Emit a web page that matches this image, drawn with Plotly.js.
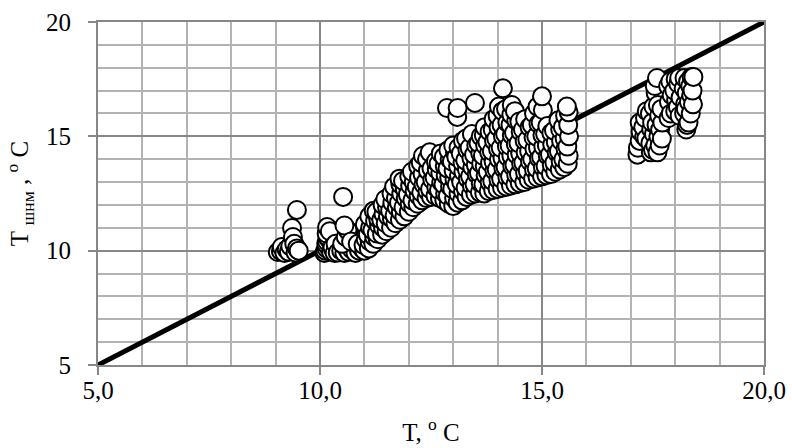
<!DOCTYPE html>
<html>
<head>
<meta charset="utf-8">
<script src="https://cdn.plot.ly/plotly-3.0.1.min.js"></script>
<style>
html,body{margin:0;padding:0;background:#fff;}
#chart{width:792px;height:448px;}
</style>
</head>
<body>
<div id="chart"></div>
<script>
// Group observed near 9-9.6 °C
const groupA_T = [9.05, 9.12, 9.14, 9.20, 9.25, 9.30, 9.33, 9.37, 9.39, 9.42, 9.45, 9.48, 9.48, 9.52];
const groupA_Tshnm = [9.94, 9.98, 10.16, 9.90, 10.05, 9.95, 10.20, 10.99, 10.60, 10.30, 9.92, 11.78, 10.10, 10.00];

// Group near 10-11 °C
const groupB_T = [10.10, 10.12, 10.15, 10.18, 10.14, 10.16, 10.20, 10.17, 10.15, 10.16, 10.22, 10.25, 10.30, 10.28, 10.33, 10.35,
  10.40, 10.48, 10.55, 10.60, 10.65, 10.72, 10.80, 10.88, 10.95, 10.50, 10.58, 10.62, 10.55, 10.52, 10.70, 10.85];
const groupB_Tshnm = [9.90, 10.00, 10.10, 10.20, 10.30, 10.40, 10.50, 10.60, 10.75, 11.03, 10.85, 9.95, 10.05, 10.15, 9.90, 10.30,
  9.92, 10.00, 9.90, 10.10, 9.95, 10.05, 9.90, 10.00, 10.10, 10.30, 10.60, 10.90, 11.10, 12.35, 10.40, 10.30];

// Main group 11-15.6 °C
const mainT = [
  11.00,10.98,11.03,11.05,11.01,
  11.10,11.12,11.08,11.13,11.11,
  11.20,11.22,11.18,11.24,11.21,
  11.30,11.28,11.33,11.31,11.27,
  11.40,11.42,11.38,11.43,11.41,
  11.50,11.48,11.53,11.51,11.47,
  11.60,11.62,11.58,11.63,11.61,
  11.70,11.68,11.73,11.71,11.67,
  11.80,11.82,11.78,11.83,11.81,11.79,
  11.90,11.88,11.93,11.91,11.87,
  12.00,12.02,11.98,12.03,12.01,
  12.10,12.08,12.13,12.11,12.07,
  12.20,12.22,12.18,12.23,12.21,
  12.30,12.28,12.33,12.31,12.27,12.32,
  12.40,12.42,12.38,12.43,12.41,
  12.50,12.48,12.53,12.51,12.47,
  12.60,12.62,12.58,12.63,12.61,
  12.70,12.68,12.73,12.71,12.67,12.72,
  12.80,12.82,12.78,12.83,12.81,12.79,
  12.90,12.88,12.93,12.91,12.87,12.92,12.89,12.86,
  13.00,13.02,12.98,13.03,13.01,12.97,13.04,13.00,13.09,
  13.10,13.12,13.08,13.13,13.11,13.07,13.12,13.10,
  13.20,13.22,13.18,13.23,13.21,13.17,13.22,
  13.30,13.28,13.33,13.31,13.27,13.32,13.29,
  13.40,13.42,13.38,13.43,13.41,13.37,13.42,
  13.50,13.48,13.53,13.51,13.47,13.52,13.49,
  13.60,13.62,13.58,13.63,13.61,13.57,13.62,
  13.70,13.68,13.73,13.71,13.67,13.72,13.69,13.71,
  13.80,13.82,13.78,13.83,13.81,13.77,13.82,
  13.90,13.88,13.93,13.91,13.87,13.92,13.89,13.91,
  14.00,14.02,13.98,14.03,14.01,13.97,14.02,14.00,14.03,
  14.10,14.08,14.13,14.11,14.07,14.12,14.09,14.11,14.12,
  14.20,14.22,14.18,14.23,14.21,14.17,14.22,14.19,
  14.30,14.28,14.33,14.31,14.27,14.32,14.29,14.31,14.32,
  14.40,14.42,14.38,14.43,14.41,14.37,14.42,14.39,
  14.50,14.48,14.53,14.51,14.47,14.52,14.49,
  14.60,14.62,14.58,14.63,14.61,14.57,14.62,
  14.70,14.68,14.73,14.71,14.67,14.72,
  14.80,14.82,14.78,14.83,14.81,14.77,14.82,
  14.90,14.88,14.93,14.91,14.87,14.92,14.90,
  15.00,15.02,14.98,15.03,15.01,14.97,15.02,15.00,
  15.10,15.08,15.13,15.11,15.07,15.12,
  15.20,15.22,15.18,15.23,15.21,
  15.30,15.28,15.33,15.31,15.27,
  15.40,15.42,15.38,15.43,15.41,15.37,
  15.50,15.48,15.53,15.51,15.47,15.52,
  15.58,15.60,15.57,15.61,15.59,15.60,15.56
];
const mainTshnm = [
  10.00,10.25,10.50,10.80,11.15,
  10.10,10.40,10.70,11.00,11.50,
  10.30,10.60,10.90,11.30,11.75,
  10.50,10.75,11.10,11.40,11.70,
  10.70,11.00,11.35,11.60,12.00,
  10.85,11.20,11.50,11.90,12.25,
  11.00,11.40,11.75,12.10,12.50,
  11.20,11.55,11.90,12.30,12.80,
  11.35,11.70,12.10,12.50,12.90,13.15,
  11.50,11.90,12.30,12.70,13.05,
  11.70,12.05,12.45,12.85,13.25,
  11.90,12.20,12.60,13.00,13.45,
  12.05,12.40,12.80,13.20,13.70,
  12.20,12.55,12.90,13.35,13.85,14.15,
  12.30,12.60,13.00,13.50,14.00,
  12.35,12.70,13.10,13.60,14.30,
  12.40,12.75,13.20,13.55,13.90,
  12.30,12.65,13.00,13.40,13.80,14.25,
  12.20,12.50,12.90,13.30,13.70,14.10,
  12.05,12.40,12.80,13.20,13.60,14.00,14.40,16.24,
  11.95,12.30,12.70,13.10,13.50,13.90,14.30,14.60,15.85,
  12.10,12.50,12.90,13.30,13.70,14.10,14.50,16.24,
  12.20,12.60,13.00,13.45,13.85,14.25,14.80,
  12.35,12.75,13.15,13.55,13.95,14.40,14.90,
  12.45,12.85,13.25,13.65,14.05,14.50,15.10,
  12.50,12.90,13.35,13.75,14.20,14.60,16.46,
  12.55,12.95,13.40,13.80,14.25,14.70,15.00,
  12.50,12.90,13.30,13.70,14.15,14.60,15.05,15.40,
  12.60,13.00,13.45,13.85,14.30,14.75,15.20,
  12.65,13.05,13.50,13.90,14.35,14.80,15.30,15.75,
  12.70,13.10,13.55,14.00,14.45,14.90,15.40,15.90,16.30,
  12.75,13.15,13.60,14.05,14.50,15.00,15.50,16.10,17.10,
  12.80,13.20,13.65,14.10,14.55,15.10,15.60,16.20,
  12.85,13.25,13.70,14.15,14.60,15.05,15.50,15.95,16.37,
  12.90,13.30,13.75,14.20,14.65,15.15,15.70,16.10,
  12.95,13.35,13.80,14.25,14.70,15.20,15.65,
  13.00,13.40,13.85,14.30,14.80,15.30,15.75,
  13.10,13.50,13.90,14.35,14.85,15.40,
  13.15,13.55,14.00,14.45,14.95,15.50,16.00,
  13.20,13.60,14.05,14.50,15.00,15.55,16.30,
  13.25,13.65,14.10,14.55,15.05,15.60,16.15,16.75,
  13.30,13.70,14.15,14.60,15.10,15.45,
  13.35,13.75,14.20,14.65,15.15,
  13.45,13.85,14.30,14.75,15.25,
  13.55,13.90,14.35,14.80,15.30,15.70,
  13.65,14.00,14.45,14.90,15.40,15.90,
  13.80,14.15,14.55,15.00,15.50,16.05,16.30
];

// Warm group 17-18.4 °C
const groupD_T = [17.15,17.16,17.20,17.22,17.20,17.30,17.28,17.32,17.35,17.36,17.45,17.44,17.46,17.43,17.50,17.52,17.48,17.51,
  17.55,17.56,17.54,17.60,17.62,17.58,17.61,17.59,17.65,17.66,17.64,17.70,17.71,17.69,
  17.85,17.86,17.84,17.90,17.92,17.89,18.00,18.02,17.98,18.01,18.06,18.07,18.10,18.12,18.09,18.20,18.22,18.19,18.21,
  18.25,18.27,18.24,18.26,18.30,18.31,18.29,18.35,18.36,18.34,18.37,18.40,18.39,18.41];
const groupD_Tshnm = [14.2,14.5,14.8,15.2,15.6,15.0,15.4,15.8,14.9,16.1,14.3,14.7,15.3,16.0,14.4,15.1,15.6,16.3,
  14.6,16.9,17.2,14.3,15.0,15.5,16.37,17.55,14.6,15.3,15.9,14.9,15.6,16.2,
  15.8,16.5,17.2,16.0,16.8,17.4,16.1,16.6,17.0,17.5,16.28,17.3,15.9,16.7,17.55,16.0,16.4,17.1,17.55,
  15.3,15.5,16.2,16.9,15.6,16.5,17.4,16.0,16.8,17.2,17.6,16.4,17.0,17.6];

// Reference line T = Tshnm
const lineT = [5, 20];
const lineTshnm = [5, 20];

// Ticks
const xTickVals = [5, 10, 15, 20];
const xTickText = ['5,0', '10,0', '15,0', '20,0'];
const yTickVals = [5, 10, 15, 20];
const yTickText = ['5', '10', '15', '20'];

const allT = groupA_T.concat(groupB_T, mainT, groupD_T);
const allTshnm = groupA_Tshnm.concat(groupB_Tshnm, mainTshnm, groupD_Tshnm);

const FONT = '"Liberation Serif", "Times New Roman", serif';
const MAJOR = '#878787';
const MINOR = '#b3b3b3';

const traces = [
  {
    x: lineT, y: lineTshnm, type: 'scatter', mode: 'lines',
    line: {color: '#000000', width: 5}, hoverinfo: 'skip', showlegend: false
  },
  {
    x: allT, y: allTshnm, type: 'scatter', mode: 'markers',
    marker: {size: 18, color: '#ffffff', line: {color: '#000000', width: 2}},
    showlegend: false
  }
];

const axisCommon = {
  showgrid: true, gridcolor: MAJOR, gridwidth: 2,
  showline: true, linecolor: MAJOR, linewidth: 2, mirror: true,
  ticks: 'outside', ticklen: 8, tickwidth: 2, tickcolor: MAJOR,
  zeroline: false,
  tickfont: {family: FONT, size: 25, color: '#000000'},
  minor: {dtick: 1, tick0: 5, showgrid: true, gridcolor: MINOR, gridwidth: 2, ticks: ''}
};

const layout = {
  width: 792, height: 448,
  margin: {l: 98, r: 28, t: 22, b: 83},
  paper_bgcolor: '#ffffff', plot_bgcolor: '#ffffff',
  font: {family: FONT, color: '#000000'},
  showlegend: false,
  xaxis: Object.assign({}, axisCommon, {
    range: [5, 20], tickmode: 'array', tickvals: xTickVals, ticktext: xTickText,
    ticklabelstandoff: -6,
    title: {text: 'T, <sup>o</sup> C', font: {family: FONT, size: 25, color: '#000000'}, standoff: 20}
  }),
  yaxis: Object.assign({}, axisCommon, {
    range: [5, 20], tickmode: 'array', tickvals: yTickVals, ticktext: yTickText,
    ticklabelstandoff: 12,
    title: {text: 'T <sub>шнм</sub> , <sup>o</sup> C', font: {family: FONT, size: 25, color: '#000000'}, standoff: 10}
  })
};

Plotly.newPlot('chart', traces, layout, {displayModeBar: false, staticPlot: true});
</script>
</body>
</html>
